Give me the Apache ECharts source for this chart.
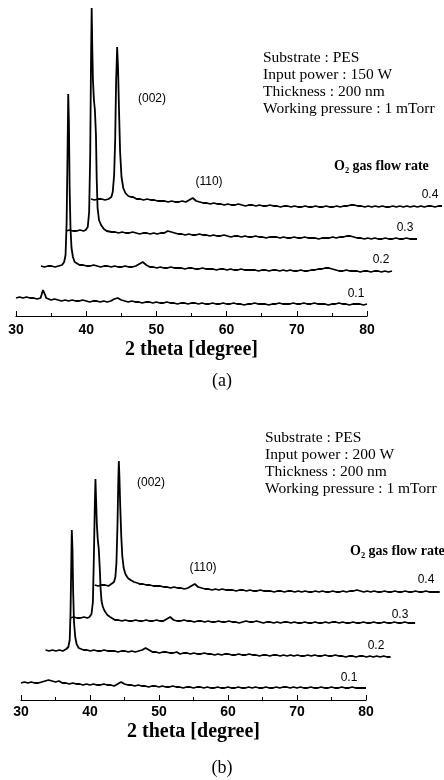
<!DOCTYPE html>
<html><head><meta charset="utf-8">
<script src="https://cdn.jsdelivr.net/npm/echarts@6/dist/echarts.min.js"></script>
<style>html,body{margin:0;padding:0;background:#fff}#c{width:444px;height:780px}</style>
</head><body><div id="c"></div>
<script>
// ---- data (own frame of each pattern; intensities in arbitrary units) ----
const xStart = 30, xStep = 0.5;           // base grid 30..80 every 0.5 deg
const flowRates = ['0.1', '0.2', '0.3', '0.4'];
const xTickValues = [30, 40, 50, 60, 70, 80];
const offsetX = 3.56, offsetY = 33;       // waterfall offset per pattern

// Panel (a): 150 W
const a1 = [
18,19,18,19,18,18,17,18,26,18,
16,17,16,15,16,15,16,15,15,16,
15,14,15,15,14,15,14,15,17,18,
16,15,14,15,14,14,13,14,14,13,
14,13,13,14,13,13,12,13,13,12,
13,13,12,13,12,12,13,12,12,13,
12,12,13,12,12,11,12,12,13,12,
12,12,11,12,12,13,12,12,12,13,
12,12,13,12,12,13,12,12,12,11,
12,12,13,12,12,11,12,12,12,11,
12];
const a1Peak = [[33.7,19],[33.85,26],[34.0,25],[34.15,21],[34.3,18]];
const a2 = [
17,16,17,17,16,17,18,19,19,20,
19,18,18,17,17,18,17,16,17,17,
16,17,16,16,17,16,16,17,19,21,
18,16,16,15,16,15,15,16,15,15,
15,14,15,15,14,14,15,14,14,14,
13,14,14,13,14,13,13,14,13,13,
13,13,12,13,13,12,13,13,12,13,
12,13,12,12,13,12,12,13,13,14,
14,15,15,14,13,12,12,13,12,12,
12,11,12,12,11,12,12,11,12,11,
12];
const a2Peak = [[33.0,18],[33.3,21],[33.5,28],[33.65,60],[33.78,130],[33.88,189],[33.98,160],[34.08,95],[34.2,55],[34.35,35],[34.55,26],[34.8,21],[35.0,19]];
const a3 = [
19,20,19,19,20,19,20,20,20,20,
20,20,19,18,18,17,18,17,17,18,
17,16,17,17,16,17,16,17,17,19,
18,17,16,16,15,16,15,15,16,15,
15,14,15,14,14,15,14,13,14,14,
13,14,13,13,14,13,13,12,13,13,
13,12,13,12,12,13,12,12,13,12,
12,12,11,12,12,12,13,12,13,13,
14,14,13,12,12,11,12,11,12,11,
11,12,11,11,12,11,11,12,11,11,
11];
const a3Peak = [[32.8,20],[33.1,23],[33.3,38],[33.45,95],[33.57,190],[33.66,242],[33.74,205],[33.84,170],[33.98,150],[34.12,140],[34.27,115],[34.38,70],[34.5,42],[34.7,30],[35.0,25],[35.4,21],[35.8,19],[36.0,19]];
const a4 = [
18,17,18,18,17,18,19,20,20,20,
20,19,19,18,18,17,18,17,17,16,
16,16,15,16,15,15,16,15,17,19,
16,15,14,14,13,14,13,13,12,13,
12,12,13,12,11,12,12,11,12,11,
11,12,11,11,10,11,11,10,11,10,
10,11,10,10,11,10,10,11,10,10,
11,10,11,11,12,12,11,11,10,11,
10,11,10,11,10,10,11,10,11,10,
11,10,11,10,11,10,11,11,10,11,
11];
const a4Peak = [[32.5,18],[32.9,20],[33.1,25],[33.3,42],[33.45,78],[33.58,135],[33.73,170],[33.86,148],[34.0,105],[34.15,65],[34.35,40],[34.6,29],[34.9,24],[35.3,21],[35.7,20],[36.0,20]];

// Panel (b): 200 W
const b1 = [
17,18,17,18,17,17,18,19,20,19,
18,19,17,17,16,17,16,16,15,16,
15,16,15,15,16,15,15,14,16,18,
16,15,15,14,15,14,14,13,14,14,
13,14,13,13,14,13,13,12,13,13,
12,13,13,12,13,12,12,13,12,12,
13,12,12,13,12,12,13,12,13,12,
12,13,12,12,13,12,13,13,12,13,
12,13,12,12,13,12,12,13,12,12,
13,12,12,13,12,12,13,12,12,12,
12];
const b1Peak = [];
const b2 = [
17,16,17,16,17,16,17,17,17,17,
18,17,17,16,17,16,16,17,16,16,
16,15,16,16,15,16,15,16,17,19,
17,15,15,14,15,15,14,14,15,13,
14,14,13,14,13,13,14,13,13,12,
13,12,13,13,12,12,13,12,12,13,
12,12,11,12,12,11,12,12,11,12,
11,12,11,12,11,11,12,11,12,11,
11,12,11,11,12,11,11,10,11,11,
10,11,11,10,11,10,11,10,11,10,
10];
const b2Peak = [[33.0,18],[33.3,20],[33.5,27],[33.62,55],[33.72,100],[33.8,137],[33.9,118],[34.0,75],[34.12,45],[34.3,30],[34.5,23],[34.8,19],[35.0,18]];
const b3 = [
16,17,16,16,17,16,17,17,17,17,
17,16,15,14,14,13,14,13,13,14,
13,13,14,13,13,14,13,13,15,17,
14,13,13,14,13,13,12,13,13,12,
13,12,12,13,12,12,13,12,12,11,
12,13,12,12,13,12,11,12,12,11,
12,11,12,12,11,12,11,11,12,11,
11,12,11,11,12,11,12,12,11,12,
11,11,12,11,11,12,11,11,12,11,
11,12,11,11,12,11,11,12,11,11,
11];
const b3Peak = [[32.8,17],[33.1,20],[33.3,32],[33.45,80],[33.58,130],[33.67,155],[33.76,135],[33.87,110],[34.0,95],[34.15,85],[34.3,65],[34.42,45],[34.55,33],[34.75,27],[35.0,23],[35.4,19],[35.8,17],[36.0,17]];
const b4 = [
16,15,16,16,15,16,17,17,17,17,
20,19,18,17,17,16,16,15,15,15,
14,14,13,14,13,13,12,13,15,17,
14,13,12,12,11,12,11,12,11,11,
11,10,11,11,10,11,10,10,11,10,
10,10,9,10,10,9,10,10,9,10,
9,10,9,9,10,9,10,9,9,10,
9,9,10,9,10,10,11,10,9,10,
9,10,9,9,10,9,9,10,9,9,
10,9,9,10,9,9,10,9,9,9,
9];
const b4Peak = [[32.4,17],[32.8,19],[33.0,24],[33.15,38],[33.3,75],[33.42,120],[33.5,140],[33.58,125],[33.7,95],[33.85,65],[34.0,45],[34.2,33],[34.45,27],[34.8,23],[35.2,21],[35.7,19],[36.2,18],[36.5,17]];

const windowsA = [[33.5,34.5],[32.9,35.1],[32.7,36.1],[32.4,36.1]];
const windowsB = [[0,0],[32.9,35.1],[32.7,36.1],[32.3,36.6]];

// ---- build ----
function build(base, peak, win, k) {
  const pts = [];
  base.forEach((v, i) => {
    const x = xStart + i * xStep;
    if (!(x > win[0] && x < win[1])) pts.push([x, v]);
  });
  peak.forEach(p => pts.push([p[0], p[1]]));
  pts.sort((p, q) => p[0] - q[0]);
  return pts.map(p => [p[0] + k * offsetX, p[1] + k * offsetY]);
}
const panelA = [[a1,a1Peak],[a2,a2Peak],[a3,a3Peak],[a4,a4Peak]];
const panelB = [[b1,b1Peak],[b2,b2Peak],[b3,b3Peak],[b4,b4Peak]];

const DATA_MAX = 90.9; // hidden data axes run past 80 so shifted patterns can extend right
const series = [];
panelA.forEach((c, k) => series.push({
  type: 'line', xAxisIndex: 1, yAxisIndex: 1, name: 'a' + flowRates[k],
  data: build(c[0], c[1], windowsA[k], k), symbol: 'none', clip: false,
  lineStyle: { color: '#000', width: 1.8 }, silent: true
}));
panelB.forEach((c, k) => series.push({
  type: 'line', xAxisIndex: 3, yAxisIndex: 3, name: 'b' + flowRates[k],
  data: build(c[0], c[1], windowsB[k], k), symbol: 'none', clip: false,
  lineStyle: { color: '#000', width: 1.8 }, silent: true
}));

function xAx(gi, margin, gap) {
  return {
    gridIndex: gi, type: 'value', min: 30, max: 80, interval: 10,
    axisLine: { lineStyle: { color: '#000', width: 1.2 } },
    axisTick: { inside: true, length: 5, lineStyle: { color: '#000', width: 1 } },
    minorTick: { show: true, splitNumber: 2, length: 3, lineStyle: { color: '#000', width: 1 } },
    splitLine: { show: false },
    axisLabel: { color: '#000', fontWeight: 'bold', fontSize: 14, fontFamily: 'Liberation Sans', margin: margin,
      formatter: v => xTickValues.includes(v) ? String(v) : '' },
    name: '2 theta [degree]', nameLocation: 'middle', nameGap: gap,
    nameTextStyle: { fontFamily: 'Liberation Serif', fontWeight: 'bold', fontSize: 20, color: '#000' }
  };
}
function xHidden(gi) { return { gridIndex: gi, type: 'value', min: 30, max: DATA_MAX, show: false }; }
function yAx(gi) { return { gridIndex: gi, type: 'value', min: 0, max: 316, show: false }; }

const serif = 'Liberation Serif', sans = 'Liberation Sans';
function txt(x, y, s, font, size, weight, align) {
  return { type: 'text', x: x, y: y, silent: true,
    style: { text: s, fontFamily: font, fontSize: size, fontWeight: weight || 'normal', fill: '#000',
      align: align || 'left', verticalAlign: 'middle' } };
}
const infoA = ['Substrate : PES', 'Input power : 150 W', 'Thickness : 200 nm', 'Working pressure : 1 mTorr'];
const infoB = ['Substrate : PES', 'Input power : 200 W', 'Thickness : 200 nm', 'Working pressure : 1 mTorr'];
const graphic = [];
infoA.forEach((s, i) => graphic.push(txt(263, 58 + i * 17, s, serif, 15.5)));
infoB.forEach((s, i) => graphic.push(txt(265, 438 + i * 17, s, serif, 15.5)));
graphic.push(txt(334, 166, 'O₂ gas flow rate', serif, 14, 'bold'));
graphic.push(txt(350, 551, 'O₂ gas flow rate', serif, 14, 'bold'));
graphic.push(txt(152, 99, '(002)', sans, 12, 'normal', 'center'));
graphic.push(txt(151, 483, '(002)', sans, 12, 'normal', 'center'));
graphic.push(txt(209, 182, '(110)', sans, 12, 'normal', 'center'));
graphic.push(txt(203, 568, '(110)', sans, 12, 'normal', 'center'));
[[356,294],[381,260],[405,228],[430,195]].forEach((p, k) => graphic.push(txt(p[0], p[1], flowRates[k], sans, 12, 'normal', 'center')));
[[349,678],[376,646],[400,615],[426,580]].forEach((p, k) => graphic.push(txt(p[0], p[1], flowRates[k], sans, 12, 'normal', 'center')));
graphic.push(txt(222, 381, '(a)', serif, 18, 'normal', 'center'));
graphic.push(txt(222, 768, '(b)', serif, 18, 'normal', 'center'));

const pxA = 351 / 50, pxB = 345 / 50;
const chart = echarts.init(document.getElementById('c'));
chart.setOption({
  animation: false,
  backgroundColor: '#fff',
  grid: [
    { left: 16, width: 351, top: 0, height: 316 },
    { left: 16, width: pxA * (DATA_MAX - 30), top: 0, height: 316 },
    { left: 21, width: 345, top: 384, height: 316 },
    { left: 21, width: pxB * (DATA_MAX - 30), top: 384, height: 316 }
  ],
  xAxis: [xAx(0, 7, 24), xHidden(1), xAx(2, 5, 22), xHidden(3)],
  yAxis: [yAx(0), yAx(1), yAx(2), yAx(3)],
  series: series,
  graphic: graphic
});
</script></body></html>
